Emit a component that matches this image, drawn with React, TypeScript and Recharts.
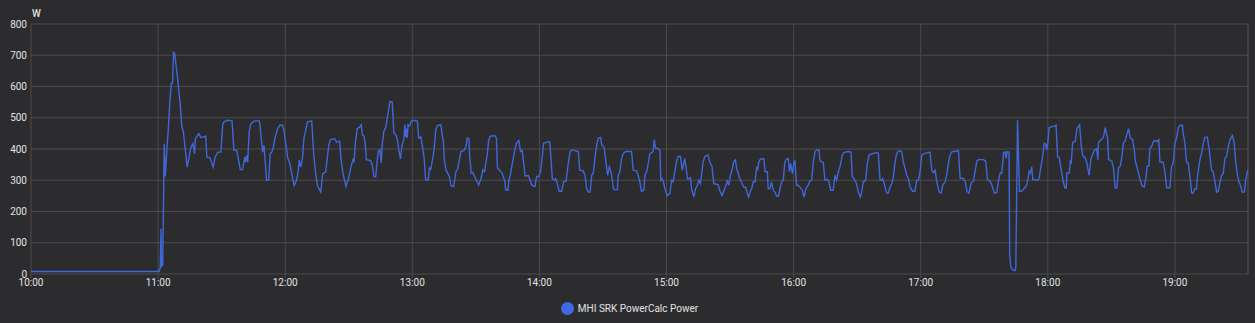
import React from 'react'
import { LineChart, Line, XAxis, YAxis, CartesianGrid, Legend, ReferenceLine } from 'recharts'

// [minutes since 10:00, watts]
const h10: [number, number][] = [[0, 8], [60.5, 8]]
const h11: [number, number][] = [
  [61.0, 20], [61.4, 145], [61.6, 25], [62.2, 30], [62.9, 417], [63.4, 312], [64.2, 406], [64.8, 460], [65.4, 535], [66.2, 610],
  [66.8, 610], [67.3, 709], [67.8, 706], [69.3, 620], [70.4, 545], [71.2, 471], [71.8, 460], [72.9, 396], [73.7, 342], [74.5, 369],
  [75.5, 406], [76.4, 417], [77.2, 385], [77.6, 433], [78.7, 444], [79.2, 449], [80.3, 436], [82.5, 441], [83.0, 374], [84.5, 372],
  [86.0, 342], [86.9, 374], [88.2, 390], [89.6, 390], [90.5, 476], [91.1, 487], [92.9, 492], [94.9, 490], [95.8, 396], [97.1, 396],
  [98.0, 364], [98.8, 334], [99.8, 334], [100.4, 353], [100.9, 374], [101.3, 358], [101.8, 380], [102.3, 358], [102.6, 406], [103.1, 460],
  [103.8, 481], [105.4, 490], [107.8, 490], [108.2, 471], [109.3, 390], [110.0, 412], [110.3, 385], [111.2, 300], [112.2, 300], [112.9, 385],
  [113.7, 390], [114.4, 406], [115.1, 433], [116.4, 465], [117.5, 476], [118.7, 476], [119.4, 460],
]
const h12: [number, number][] = [
  [121.1, 374], [122.2, 353], [123.1, 321], [124.2, 283], [125.3, 299], [126.1, 326], [126.6, 364], [127.4, 342], [128.2, 374], [128.8, 433],
  [129.7, 460], [130.5, 487], [132.5, 490], [133.5, 380], [134.4, 321], [135.2, 283], [136.8, 262], [137.7, 321], [139.1, 326], [139.9, 374],
  [140.7, 417], [141.5, 430], [143.4, 433], [144.2, 422], [145.7, 425], [146.4, 364], [147.3, 321], [148.7, 280], [150.1, 312], [150.9, 339],
  [152.0, 366], [152.5, 360], [153.2, 425], [154.0, 465], [155.1, 470], [155.9, 478], [156.4, 446], [157.2, 441], [157.8, 414], [158.3, 366],
  [160.3, 363], [161.1, 349], [161.9, 312], [162.7, 310], [163.4, 360], [163.9, 392], [164.7, 398], [165.3, 355], [165.8, 414], [166.6, 457],
  [167.4, 468], [168.2, 500], [168.9, 527], [169.4, 552], [170.5, 551], [171.3, 452], [172.1, 446], [172.9, 432], [173.6, 398], [174.4, 368],
  [175.2, 414], [176.0, 430], [176.5, 478], [176.9, 439], [177.3, 465], [177.6, 435], [178.0, 478], [178.7, 473], [179.5, 489],
]
const h13: [number, number][] = [
  [180.3, 492], [182.4, 489], [183.0, 435], [184.0, 439], [184.4, 425], [185.6, 371], [186.3, 301], [187.5, 301], [188.1, 339], [188.7, 335],
  [189.4, 360], [190.3, 398], [191.1, 462], [191.9, 475], [193.5, 478], [194.3, 435], [194.6, 430], [195.1, 366], [195.9, 333], [197.5, 312],
  [198.3, 282], [199.5, 280], [200.6, 328], [201.4, 335], [202.2, 366], [203.0, 392], [204.6, 396], [205.4, 409], [205.9, 435], [206.7, 433],
  [207.1, 376], [207.8, 323], [208.6, 325], [209.0, 317], [210.2, 301], [211.3, 285], [212.5, 306], [213.3, 333], [214.1, 328], [214.8, 360],
  [215.4, 382], [216.0, 425], [216.8, 441], [218.9, 443], [219.7, 435], [220.2, 339], [221.3, 331], [222.4, 323], [223.7, 296], [224.1, 269],
  [225.2, 269], [225.6, 301], [226.3, 317], [227.1, 349], [228.4, 398], [229.2, 419], [230.3, 427], [231.1, 392], [231.9, 396], [233.2, 314],
  [234.8, 315], [235.6, 301], [236.3, 285], [237.9, 280], [238.7, 312], [239.8, 312],
]
const h14: [number, number][] = [
  [240.6, 330], [241.4, 380], [242.0, 419], [243.5, 421], [244.3, 424], [244.9, 422], [245.5, 365], [246.1, 305], [247.1, 300], [247.7, 305],
  [248.5, 289], [249.3, 265], [250.5, 265], [251.4, 295], [252.6, 297], [253.4, 343], [254.5, 392], [255.3, 397], [257.2, 394], [258.4, 392],
  [259.0, 332], [260.7, 330], [261.5, 316], [262.3, 273], [263.1, 262], [263.9, 262], [264.7, 316], [265.5, 324], [266.2, 370], [267.0, 410],
  [267.8, 435], [268.9, 437], [269.4, 414], [270.6, 405], [271.4, 359], [272.2, 316], [273.0, 343], [273.6, 332], [274.1, 316], [274.9, 273],
  [275.7, 270], [276.8, 270], [277.2, 316], [278.0, 327], [278.8, 370], [279.6, 386], [280.7, 392], [283.5, 392], [284.3, 332], [285.9, 330],
  [286.6, 316], [287.4, 295], [288.2, 265], [289.3, 268], [289.8, 316], [290.6, 327], [291.4, 354], [292.1, 384], [293.7, 392], [294.2, 430],
  [294.8, 403], [295.3, 403], [296.9, 397], [297.3, 300], [297.9, 305], [298.6, 295], [299.2, 273],
]
const h15: [number, number][] = [
  [300.3, 251], [301.6, 257], [302.4, 300], [303.1, 295], [303.9, 327], [304.7, 359], [305.5, 376], [306.6, 376], [307.4, 332], [308.0, 349],
  [308.6, 370], [309.4, 332], [309.9, 305], [310.5, 305], [311.3, 308], [311.8, 273], [312.9, 246], [313.7, 273], [314.6, 284], [315.2, 300],
  [316.0, 289], [316.5, 316], [317.3, 359], [318.1, 376], [319.6, 381], [320.4, 359], [321.5, 343], [322.3, 289], [324.3, 286], [325.1, 268],
  [326.2, 251], [327.0, 265], [327.8, 278], [328.7, 298], [329.4, 284], [330.2, 316], [330.9, 332], [331.7, 359], [332.5, 365], [333.3, 332],
  [333.8, 324], [334.6, 305], [335.3, 295], [336.4, 278], [337.4, 278], [338.2, 257], [338.8, 246], [339.4, 262], [340.2, 273], [341.0, 295],
  [341.8, 295], [342.6, 343], [343.0, 332], [343.6, 359], [344.4, 368], [346.0, 368], [346.5, 327], [347.6, 327], [348.0, 273], [348.8, 273],
  [349.6, 295], [350.4, 268], [351.2, 262], [352.0, 249], [352.8, 249], [353.6, 273], [354.3, 295], [355.1, 300], [355.9, 359], [356.7, 368],
  [357.5, 370], [358.0, 327], [358.6, 354], [359.4, 321],
]
const h16: [number, number][] = [
  [360.2, 359], [360.6, 362], [361.4, 284], [362.2, 284], [363.0, 278], [364.1, 268], [364.9, 246], [365.8, 273], [366.9, 284], [367.7, 298],
  [368.5, 300], [369.3, 359], [370.1, 392], [370.9, 397], [372.0, 397], [372.4, 362], [374.0, 357], [374.8, 300], [375.9, 303], [376.7, 295],
  [377.5, 268], [378.7, 268], [379.5, 316], [380.3, 300], [381.1, 327], [381.9, 343], [383.0, 381], [383.9, 389], [385.8, 392], [387.1, 390],
  [387.7, 311], [388.5, 305], [389.4, 295], [390.6, 262], [391.5, 246], [392.1, 262], [392.9, 295], [394.0, 300], [394.8, 354], [395.6, 381],
  [396.9, 384], [399.2, 389], [400.0, 386], [400.8, 300], [401.6, 300], [402.0, 305], [402.8, 289], [403.9, 259], [404.7, 259], [405.5, 278],
  [406.3, 289], [407.1, 311], [407.9, 359], [408.7, 386], [409.8, 395], [411.0, 392], [411.8, 359], [412.6, 338], [413.4, 316], [414.2, 305],
  [415.0, 278], [416.1, 265], [417.3, 265], [418.1, 300], [418.9, 300], [419.7, 327],
]
const h17: [number, number][] = [
  [420.5, 381], [422.0, 386], [424.4, 390], [425.2, 332], [426.0, 324], [426.8, 332], [427.6, 295], [428.7, 262], [429.6, 259], [430.4, 284],
  [431.5, 295], [432.3, 318], [433.1, 356], [433.9, 382], [434.7, 391], [436.3, 393], [437.8, 395], [438.6, 307], [440.2, 305], [441.0, 297],
  [441.8, 265], [442.8, 259], [443.8, 291], [444.9, 297], [445.7, 329], [446.5, 361], [447.2, 366], [449.6, 366], [450.7, 361], [451.5, 302],
  [452.8, 297], [453.5, 286], [454.8, 259], [455.9, 261], [456.7, 297], [457.5, 323], [458.3, 323], [459.1, 388], [459.8, 391], [460.3, 370],
  [460.8, 391], [461.7, 390], [462.0, 66], [462.5, 23], [463.5, 13], [464.6, 11], [464.9, 23], [465.7, 493], [466.6, 265], [467.7, 265],
  [469.0, 275], [469.8, 281], [470.6, 302], [471.2, 329], [471.8, 323], [472.4, 343], [472.9, 302], [474.0, 302], [475.3, 300], [475.9, 307],
  [476.9, 350], [477.6, 377], [478.3, 418], [479.1, 415], [479.5, 396],
]
const h18: [number, number][] = [
  [480.0, 420], [480.6, 468], [481.6, 471], [483.5, 474], [483.9, 476], [484.6, 375], [485.4, 372], [486.3, 334], [487.4, 291], [488.2, 275],
  [488.7, 275], [489.0, 323], [490.1, 323], [490.6, 361], [491.1, 356], [491.7, 420], [493.0, 425], [493.7, 465], [495.0, 477], [495.7, 415],
  [496.4, 382], [496.9, 375], [497.6, 372], [498.4, 356], [499.5, 316], [500.3, 366], [501.1, 382], [502.0, 395], [503.1, 401], [503.6, 366],
  [503.9, 420], [504.7, 427], [505.5, 431], [506.3, 439], [507.1, 468], [508.2, 436], [508.7, 366], [510.2, 361], [511.0, 340], [511.8, 275],
  [512.6, 275], [513.4, 340], [514.2, 345], [515.0, 377], [515.7, 420], [516.5, 425], [517.3, 447], [518.1, 465], [518.9, 436], [520.0, 431],
  [520.8, 398], [521.3, 361], [522.0, 345], [522.8, 323], [523.6, 302], [524.4, 283], [525.5, 278], [526.3, 307], [526.9, 345], [527.7, 346],
  [528.2, 403], [529.0, 408], [529.8, 424], [530.9, 427], [531.7, 424], [532.4, 430], [532.9, 359], [534.5, 357], [535.3, 327], [536.1, 276],
  [537.6, 276], [538.4, 343], [539.2, 354],
]
const h19: [number, number][] = [
  [540.0, 419], [540.8, 435], [541.6, 468], [542.4, 476], [543.5, 476], [543.9, 451], [544.7, 419], [545.5, 359], [546.3, 354], [547.1, 311],
  [547.9, 259], [548.7, 259], [549.4, 273], [550.2, 273], [550.6, 311], [551.8, 365], [552.6, 386], [553.4, 419], [554.2, 438], [555.3, 438],
  [556.1, 403], [557.3, 332], [558.1, 327], [558.9, 295], [559.7, 262], [560.5, 265], [561.3, 295], [562.0, 316], [562.8, 321], [563.6, 370],
  [564.4, 376], [565.2, 408], [566.0, 430], [567.1, 443], [567.9, 424], [568.7, 359], [569.4, 321], [570.2, 295], [571.0, 284], [571.8, 262],
  [572.8, 262], [573.4, 300], [574.2, 327], [574.5, 332],
]

const hourLabels = ['10:00', '11:00', '12:00', '13:00', '14:00', '15:00', '16:00', '17:00', '18:00', '19:00']
const hourTicks = [0, 60, 120, 180, 240, 300, 360, 420, 480, 540]
const yTicks = [0, 100, 200, 300, 400, 500, 600, 700, 800]
const endMinute = 574.5
const seriesName = 'MHI SRK PowerCalc Power'

const data = [h10, h11, h12, h13, h14, h15, h16, h17, h18, h19].flat().map(([t, w]) => ({ t, w }))

const BG = '#2c2c2e'
const GRID = '#4a4a4c'
const TEXT = '#e2e2e2'
const BLUE = '#3f67d9'
const FONT = 'Roboto, "Noto Sans", sans-serif'

const tickStyle = { fill: TEXT, fontSize: 10, fontFamily: FONT }

const LegendBox = () => (
  <div style={{ display: 'flex', justifyContent: 'center', alignItems: 'center', height: 28, paddingLeft: 11, fontFamily: FONT, fontSize: 10, color: TEXT }}>
    <span style={{ width: 13, height: 13, borderRadius: '50%', background: '#4169e1', marginRight: 4, display: 'inline-block' }} />
    {seriesName}
  </div>
)

export default function App() {
  return (
    <div style={{ position: 'fixed', left: 0, top: 0, width: 1255, height: 323, background: BG }}>
      <div style={{ position: 'absolute', left: 32, top: 8, fontFamily: FONT, fontSize: 10, fontWeight: 500, color: TEXT }}>W</div>
      <LineChart width={1255} height={323} data={data} margin={{ top: 24, right: 7, bottom: 1, left: 0 }}>
        <CartesianGrid stroke={GRID} />
        <XAxis
          dataKey="t"
          type="number"
          domain={[0, endMinute]}
          ticks={hourTicks}
          tickFormatter={(v: number) => hourLabels[hourTicks.indexOf(v)]}
          height={20}
          axisLine={false}
          tickLine={{ stroke: GRID }}
          tickSize={4}
          tickMargin={1}
          tick={tickStyle}
          interval={0}
        />
        <YAxis
          domain={[0, 800]}
          ticks={yTicks}
          width={31}
          axisLine={false}
          tickLine={false}
          tickSize={4}
          tickMargin={0}
          tick={tickStyle}
          interval={0}
        />
        <ReferenceLine x={endMinute} stroke={GRID} />
        <Legend verticalAlign="bottom" height={28} content={() => <LegendBox />} />
        <Line type="linear" dataKey="w" name={seriesName} stroke={BLUE} strokeWidth={1.4} dot={false} isAnimationActive={false} />
      </LineChart>
    </div>
  )
}
